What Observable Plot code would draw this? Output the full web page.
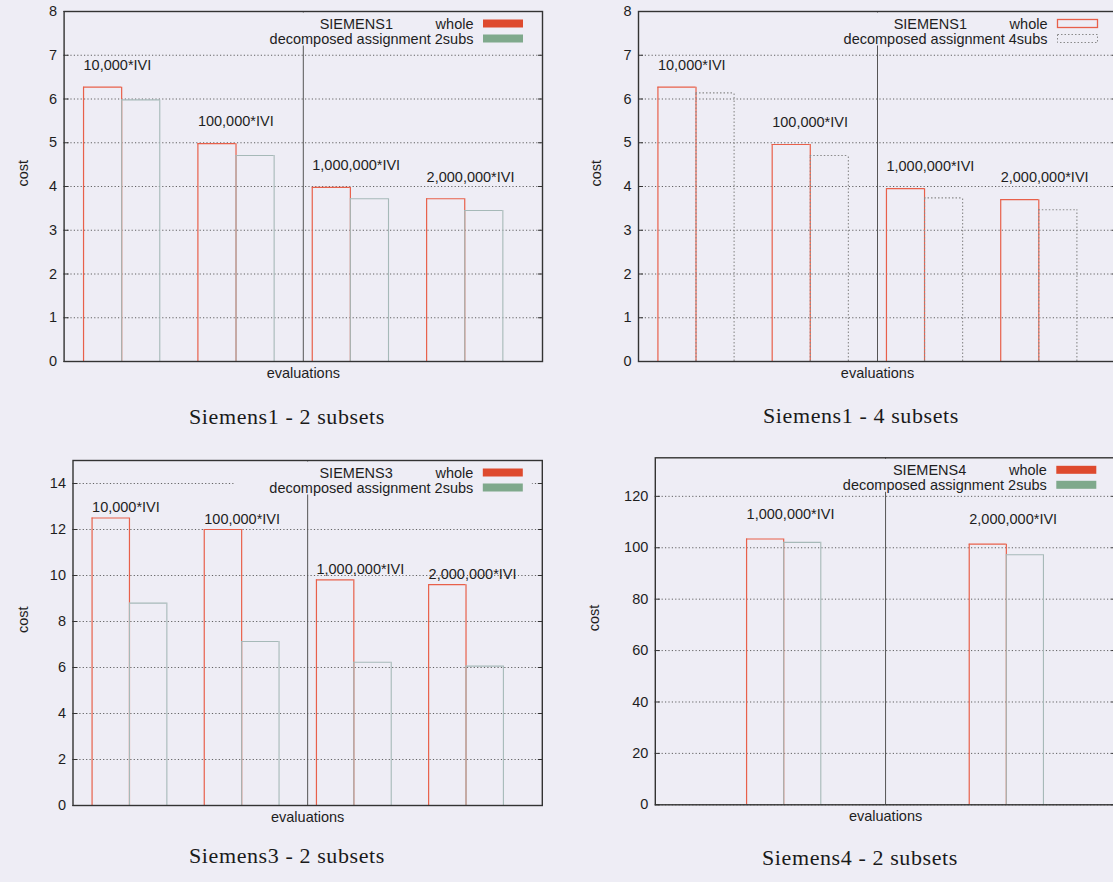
<!DOCTYPE html>
<html><head><meta charset="utf-8">
<script src="https://cdn.jsdelivr.net/npm/d3@7"></script>
<script src="https://cdn.jsdelivr.net/npm/@observablehq/plot@0.6"></script>
<style>
html,body{margin:0;padding:0;background:#eeedf5;}
#page{position:relative;width:1113px;height:882px;overflow:hidden;background:#eeedf5;}
.panel{position:absolute;}
.caption{position:absolute;font-family:"Liberation Serif","Times New Roman",serif;font-size:22px;letter-spacing:0.6px;color:#1a1a1a;white-space:nowrap;transform:translate(-50%,-50%);}
</style></head><body><div id="page"></div>
<script>
// ---- data ----
const groupLabels = ["10,000*IVI", "100,000*IVI", "1,000,000*IVI", "2,000,000*IVI"];
const s4Labels = ["1,000,000*IVI", "2,000,000*IVI"];
const s1_2subs_whole = [6.27, 4.98, 3.98, 3.72];
const s1_2subs_decomp = [5.98, 4.71, 3.72, 3.45];
const s1_4subs_whole = [6.27, 4.96, 3.95, 3.70];
const s1_4subs_decomp = [6.14, 4.71, 3.74, 3.47];
const s3_2subs_whole = [12.5, 12.0, 9.81, 9.6];
const s3_2subs_decomp = [8.8, 7.13, 6.23, 6.06];
const s4_2subs_whole = [103.4, 101.4];
const s4_2subs_decomp = [102.1, 97.3];
const yTicksS1 = [0, 1, 2, 3, 4, 5, 6, 7, 8];
const yTicksS3 = [0, 2, 4, 6, 8, 10, 12, 14];
const yTicksS4 = [0, 20, 40, 60, 80, 100, 120];

// ---- style ----
const BG = "#eeedf5";
const FONT = "Liberation Sans, Arial, sans-serif";
const FS = 14.5;
const TEXT = "#1e1e1e";
const RED = "#e8604a";
const REDFILL = "#de4a2e";
const TEAL = "#a6b9b8";
const GREENFILL = "#7fa98c";

function legendMark(title, names, outlined) {
  return (index, scales, values, dims) => {
    const R = dims.width - dims.marginRight, T = dims.marginTop;
    const g = d3.create("svg:g");
    g.append("rect").attr("x", R - 308).attr("y", T + 1.5).attr("width", 298).attr("height", 33).attr("fill", BG);
    const rows = [T + 12.5, T + 27.5];
    const t = g.append("g").attr("font-family", FONT).attr("font-size", FS).attr("fill", TEXT).attr("text-anchor", "end");
    t.append("text").attr("x", R - 149).attr("y", rows[0]).attr("dy", "0.35em").text(title);
    names.forEach((n, i) => t.append("text").attr("x", R - 68.5).attr("y", rows[i]).attr("dy", "0.35em").text(n));
    if (outlined) {
      g.append("rect").attr("x", R - 58.5).attr("y", rows[0] - 4).attr("width", 40).attr("height", 8)
        .attr("fill", "none").attr("stroke", RED).attr("stroke-width", 1.3);
      g.append("rect").attr("x", R - 58.5).attr("y", rows[1] - 4).attr("width", 40).attr("height", 8)
        .attr("fill", "none").attr("stroke", "#8a8a8a").attr("stroke-dasharray", "1.5,2");
    } else {
      g.append("rect").attr("x", R - 59).attr("y", rows[0] - 4).attr("width", 40).attr("height", 8).attr("fill", REDFILL);
      g.append("rect").attr("x", R - 59).attr("y", rows[1] - 4).attr("width", 40).attr("height", 8).attr("fill", GREENFILL);
    }
    return g.node();
  };
}

function barOutline(bars, style) {
  return [
    Plot.ruleX(bars, {x: "x1", y1: () => 0, y2: "value", ...style}),
    Plot.ruleX(bars, {x: "x2", y1: () => 0, y2: "value", ...style}),
    Plot.ruleY(bars, {y: "value", x1: "x1", x2: "x2", ...style})
  ];
}

function panel(cfg) {
  const {labels, whole, decomp, step, yTicks, yMax, xDomain, labelOffset, title, names, dashed,
         left, top, width, height, mL, mR, mT, mB, costDx} = cfg;
  const wholeBars = labels.map((lab, i) => ({x1: i * step, x2: i * step + 1, value: whole[i]}));
  const decompBars = labels.map((lab, i) => ({x1: i * step + 1, x2: i * step + 2, value: decomp[i]}));
  const labelRows = labels.map((lab, i) => ({x: i * step, y: whole[i] + labelOffset, label: lab}));
  const mid = (xDomain[0] + xDomain[1]) / 2;
  const svg = Plot.plot({
    width, height, marginLeft: mL, marginRight: mR, marginTop: mT, marginBottom: mB,
    style: {background: "transparent", overflow: "visible", fontFamily: FONT},
    x: {domain: xDomain, axis: null},
    y: {domain: [0, yMax]},
    marks: [
      Plot.gridY(yTicks, {stroke: "#4a4a4a", strokeOpacity: 0.85, strokeDasharray: "1.2,2.2"}),
      Plot.ruleX([mid], {stroke: "#555", strokeWidth: 1}),
      legendMark(title, names, dashed),
      ...barOutline(wholeBars, {stroke: RED, strokeWidth: 1.2}),
      ...barOutline(decompBars, {stroke: dashed ? "#8a8a8a" : TEAL, strokeWidth: 1.1, strokeDasharray: dashed ? "1.5,2" : null}),
      Plot.text(labelRows, {x: "x", y: "y", text: "label", textAnchor: "start", fontSize: FS, fill: TEXT}),
      Plot.frame({stroke: "#333", strokeWidth: 1.4}),
      Plot.axisY({ticks: yTicks, tickSize: 0, tickPadding: 7, fontSize: FS, label: null, color: TEXT}),
      Plot.axisY({ticks: yTicks, tickSize: -5, text: null, label: null, stroke: "#333"}),
      Plot.axisY({anchor: "right", ticks: yTicks, tickSize: -5, text: null, label: null, stroke: "#333"}),
      Plot.text(["cost"], {frameAnchor: "left", dx: costDx, rotate: -90, text: d => d, fontSize: FS, fill: TEXT}),
      Plot.text(["evaluations"], {frameAnchor: "bottom", dy: 16, text: d => d, fontSize: FS, fill: TEXT})
    ]
  });
  svg.classList.add("panel");
  svg.style.left = left + "px";
  svg.style.top = top + "px";
  svg.style.position = "absolute";
  return svg;
}

const page = document.getElementById("page");
page.appendChild(panel({labels: groupLabels, whole: s1_2subs_whole, decomp: s1_2subs_decomp, step: 3,
  yTicks: yTicksS1, yMax: 8, xDomain: [-0.51, 12.04], labelOffset: 0.5, title: "SIEMENS1",
  names: ["whole", "decomposed assignment 2subs"], dashed: false,
  left: 0, top: 0, width: 553, height: 395, mL: 63.6, mR: 11, mT: 11, mB: 34, costDx: -40.5}));
page.appendChild(panel({labels: groupLabels, whole: s1_4subs_whole, decomp: s1_4subs_decomp, step: 3,
  yTicks: yTicksS1, yMax: 8, xDomain: [-0.51, 12.04], labelOffset: 0.5, title: "SIEMENS1",
  names: ["whole", "decomposed assignment 4subs"], dashed: true,
  left: 553, top: 0, width: 580, height: 395, mL: 85, mR: 17, mT: 11, mB: 34, costDx: -42}));
page.appendChild(panel({labels: groupLabels, whole: s3_2subs_whole, decomp: s3_2subs_decomp, step: 3,
  yTicks: yTicksS3, yMax: 15, xDomain: [-0.51, 12.04], labelOffset: 0.45, title: "SIEMENS3",
  names: ["whole", "decomposed assignment 2subs"], dashed: false,
  left: 0, top: 440, width: 553, height: 395, mL: 72.5, mR: 11.2, mT: 20, mB: 30, costDx: -49.3}));
page.appendChild(panel({labels: s4Labels, whole: s4_2subs_whole, decomp: s4_2subs_decomp, step: 6,
  yTicks: yTicksS4, yMax: 135, xDomain: [-2.46, 9.95], labelOffset: 9.5, title: "SIEMENS4",
  names: ["whole", "decomposed assignment 2subs"], dashed: false,
  left: 553, top: 440, width: 580, height: 395, mL: 101.8, mR: 17.7, mT: 17.3, mB: 30.7, costDx: -60.8}));

const captions = [
  {text: "Siemens1 - 2 subsets", x: 287, y: 416.5},
  {text: "Siemens1 - 4 subsets", x: 861, y: 416},
  {text: "Siemens3 - 2 subsets", x: 287, y: 856},
  {text: "Siemens4 - 2 subsets", x: 860, y: 858}
];
for (const c of captions) {
  const d = document.createElement("div");
  d.className = "caption";
  d.textContent = c.text;
  d.style.left = c.x + "px";
  d.style.top = c.y + "px";
  page.appendChild(d);
}
</script></body></html>
